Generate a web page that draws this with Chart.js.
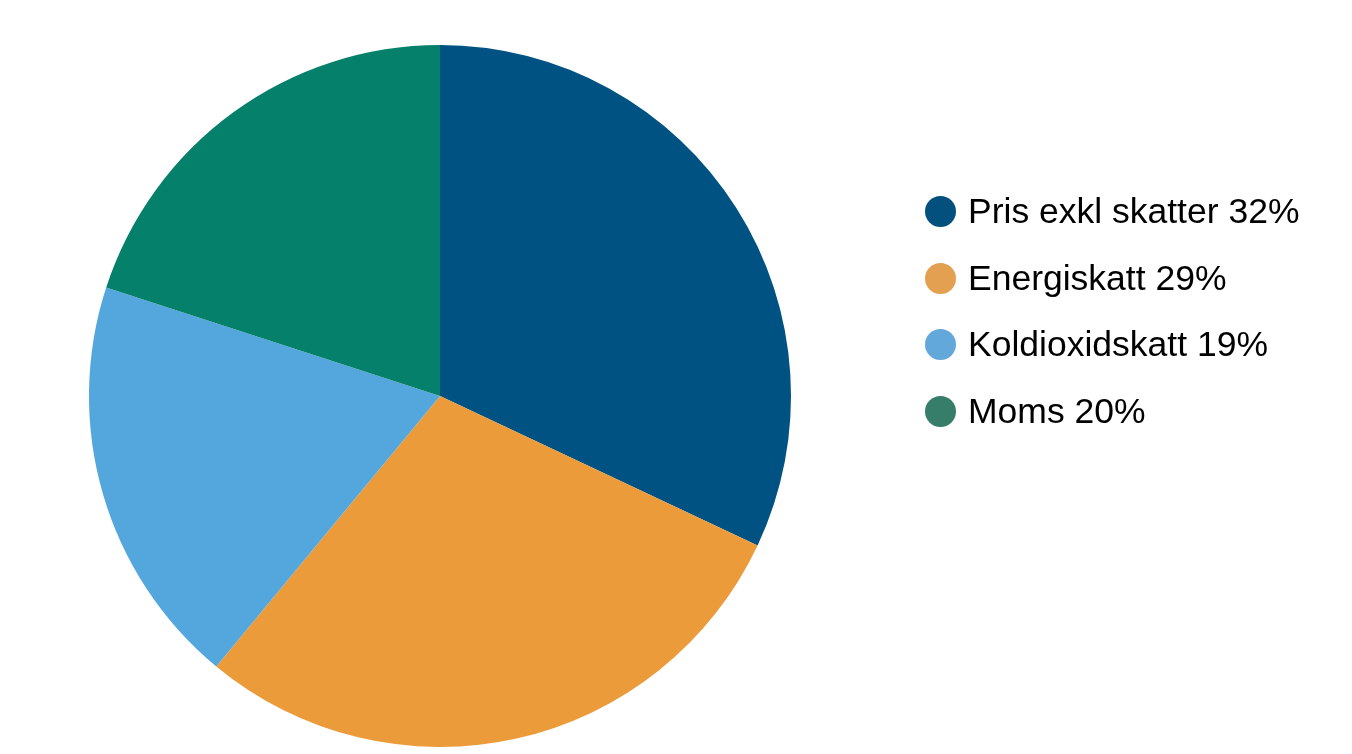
<!DOCTYPE html>
<html>
<head>
    <title>Pris och skatter</title>
    <script src="https://cdn.jsdelivr.net/npm/chart.js"></script>
    <style>
        body {
            margin: 0;
            background-color: white;
            font-family: "Liberation Sans", Arial, sans-serif;
        }
        .chart-container {
            position: relative;
            width: 1352px;
            height: 754px;
        }
        #legend {
            position: absolute;
            left: 925px;
            top: 195px;
            margin: 0;
            padding: 0;
            list-style: none;
        }
        #legend li {
            display: flex;
            align-items: center;
            height: 33px;
            margin-bottom: 33.5px;
            font-size: 35.5px;
            color: #000;
            white-space: nowrap;
        }
        #legend .dot {
            width: 31px;
            height: 31px;
            border-radius: 50%;
            margin-right: 12px;
            flex: none;
        }
    </style>
</head>
<body>
    <div class="chart-container">
        <canvas id="pieChart" width="1352" height="754"></canvas>
        <ul id="legend"></ul>
    </div>

    <script>
        // Data
        const labels = ['Pris exkl skatter', 'Energiskatt', 'Koldioxidskatt', 'Moms'];
        const shares = [32, 29, 19, 20];
        const sliceColors = ['#005282', '#EC9B3A', '#54A7DC', '#05806A'];
        const legendColors = ['#03507F', '#E2A050', '#62A8DA', '#367E6A'];

        const ctx = document.getElementById('pieChart').getContext('2d');
        const pieChart = new Chart(ctx, {
            type: 'pie',
            data: {
                labels: labels,
                datasets: [{
                    data: shares,
                    backgroundColor: sliceColors,
                    borderWidth: 0
                }]
            },
            options: {
                responsive: false,
                animation: false,
                layout: {
                    padding: { left: 89, top: 45, right: 561, bottom: 7 }
                },
                plugins: {
                    legend: { display: false },
                    tooltip: { enabled: false }
                }
            }
        });

        // Legend built from the same arrays
        const legendEl = document.getElementById('legend');
        labels.forEach((label, i) => {
            const li = document.createElement('li');
            const dot = document.createElement('span');
            dot.className = 'dot';
            dot.style.backgroundColor = legendColors[i];
            li.appendChild(dot);
            li.appendChild(document.createTextNode(label + ' ' + shares[i] + '%'));
            legendEl.appendChild(li);
        });
    </script>
</body>
</html>
